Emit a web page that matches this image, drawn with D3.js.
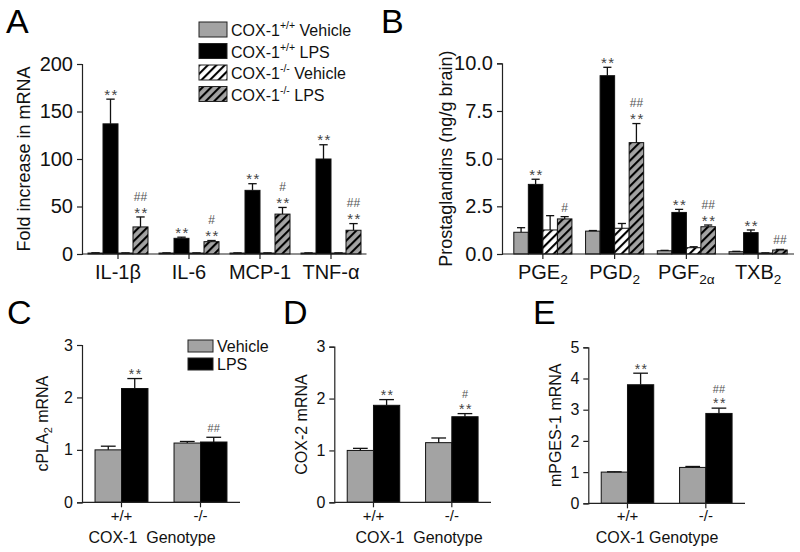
<!DOCTYPE html>
<html><head><meta charset="utf-8">
<script src="https://cdn.jsdelivr.net/npm/d3@7"></script>
<style>
body{margin:0;background:#fff}
text{font-family:Arial,"Liberation Sans",Helvetica,sans-serif}
</style>
</head><body>
<svg id="chart" width="800" height="552"></svg>
<script>
// ---------- DATA ----------
// Panel A: fold increase in mRNA
const catsA = ["IL-1β", "IL-6", "MCP-1", "TNF-α"];
const aWtVeh = [1, 1, 1, 1];
const aWtVehSem = [0.3, 0.2, 0.2, 0.2];
const aWtLps = [137, 16.5, 67, 100];
const aWtLpsSem = [26, 1.2, 7, 15];
const aKoVeh = [1, 1, 1, 1];
const aKoVehSem = [0.2, 0.2, 0.2, 0.2];
const aKoLps = [28.5, 13, 42, 25];
const aKoLpsSem = [10.5, 1.2, 7, 7];
const aStarsWtLps = ["**", "**", "**", "**"];
const aStarsKoLps = ["**", "**", "**", "**"];
const aHashKoLps = ["##", "#", "#", "##"];
const aTicks = [0, 50, 100, 150, 200];

// Panel B: prostaglandins (ng/g brain)
const catsB = ["PGE_{2}", "PGD_{2}", "PGF_{2α}", "TXB_{2}"];
const bWtVeh = [1.14, 1.2, 0.17, 0.12];
const bWtVehSem = [0.24, 0.03, 0.02, 0.02];
const bWtLps = [3.65, 9.35, 2.18, 1.12];
const bWtLpsSem = [0.27, 0.44, 0.16, 0.14];
const bKoVeh = [1.26, 1.35, 0.33, 0.05];
const bKoVehSem = [0.75, 0.25, 0.05, 0.01];
const bKoLps = [1.84, 5.84, 1.43, 0.21];
const bKoLpsSem = [0.12, 1.0, 0.09, 0.03];
const bStarsWtLps = ["**", "**", "**", "**"];
const bStarsKoLps = ["", "**", "**", ""];
const bHashKoLps = ["#", "##", "##", "##"];
const bTicks = [0, 2.5, 5, 7.5, 10];

// Panels C-E: genotype
const catsGeno = ["+/+", "-/-"];
const cVeh = [1.0, 1.13], cVehSem = [0.07, 0.03];
const cLps = [2.17, 1.15], cLpsSem = [0.19, 0.09];
const cStars = ["**", ""], cHash = ["", "##"];
const cTicks = [0, 1, 2, 3];
const dVeh = [1.0, 1.15], dVehSem = [0.04, 0.09];
const dLps = [1.87, 1.65], dLpsSem = [0.11, 0.06];
const dStars = ["**", "**"], dHash = ["", "#"];
const dTicks = [0, 1, 2, 3];
const eVeh = [1.0, 1.15], eVehSem = [0.01, 0.03];
const eLps = [3.8, 2.88], eLpsSem = [0.37, 0.17];
const eStars = ["**", "**"], eHash = ["", "##"];
const eTicks = [0, 1, 2, 3, 4, 5];

const legendA = [
  {base: "COX-1", sup: "+/+", rest: " Vehicle", fill: "gray"},
  {base: "COX-1", sup: "+/+", rest: " LPS", fill: "black"},
  {base: "COX-1", sup: "-/-", rest: " Vehicle", fill: "hatchW"},
  {base: "COX-1", sup: "-/-", rest: " LPS", fill: "hatchG"}
];
const legendC = [{label: "Vehicle", fill: "gray"}, {label: "LPS", fill: "black"}];

// ---------- DRAWING ----------
const GRAY = "#a3a3a3";
const svg = d3.select("#chart");
const defs = svg.append("defs");
function hatch(id, bg) {
  const p = defs.append("pattern").attr("id", id).attr("patternUnits", "userSpaceOnUse")
    .attr("width", 6).attr("height", 6).attr("patternTransform", "rotate(45)");
  p.append("rect").attr("width", 6).attr("height", 6).attr("fill", bg);
  p.append("line").attr("x1", 1).attr("y1", 0).attr("x2", 1).attr("y2", 6)
    .attr("stroke", "#000").attr("stroke-width", 2.2);
}
hatch("hw", "#fff");
hatch("hg", GRAY);
const fills = {gray: GRAY, black: "#000", hatchW: "url(#hw)", hatchG: "url(#hg)"};

// text with optional subscript: "main_{sub}rest"
function richLabel(sel, s, fs, shift) {
  const m = s.match(/^(.*?)_\{(.*?)\}(.*)$/);
  if (!m) { sel.text(s); return; }
  sel.append("tspan").text(m[1]);
  sel.append("tspan").attr("font-size", fs * 0.68).attr("dy", shift).text(m[2]);
  if (m[3]) sel.append("tspan").attr("dy", -shift).text(m[3]);
}

function panel(o) {
  const g = svg.append("g");
  const x = d3.scaleBand().domain(o.cats).range(o.xRange).paddingInner(0).paddingOuter(0);
  const y = d3.scaleLinear().domain(o.yDomain).range(o.yRange);
  const nS = o.series.length;
  const groupW = x.bandwidth() * o.groupFrac;
  const bw = groupW / nS;
  const inner = d3.scaleBand().domain(d3.range(nS)).range([0, groupW]);

  // y axis
  const ya = g.append("g").attr("transform", `translate(${o.axisX},0)`)
    .call(d3.axisLeft(y).tickValues(o.ticks).tickFormat(o.fmt).tickSizeOuter(0).tickSize(5));
  ya.select(".domain").attr("stroke", "#222").attr("stroke-width", 1.2);
  ya.selectAll(".tick line").attr("stroke", "#222").attr("stroke-width", 1.2);
  ya.selectAll("text").attr("font-size", o.tickFs).attr("fill", "#111")
    .attr("font-family", "Arial, 'Liberation Sans', sans-serif").attr("dx", -1);

  // bars
  o.series.forEach((s, si) => {
    o.cats.forEach((c, ci) => {
      const x0 = x(c) + (x.bandwidth() - groupW) / 2 + inner(si);
      const v = s.vals[ci];
      const top = y(v);
      g.append("rect").attr("x", x0).attr("y", top).attr("width", bw)
        .attr("height", Math.max(y(0) - top, 0.6))
        .attr("fill", fills[s.fill]).attr("stroke", "#111").attr("stroke-width", 1);
      let capY = top;
      const cx = x0 + bw / 2;
      if (s.sem && s.sem[ci] > 0) {
        capY = y(v + s.sem[ci]);
        g.append("line").attr("x1", cx).attr("x2", cx).attr("y1", top).attr("y2", capY)
          .attr("stroke", "#111").attr("stroke-width", 1.3);
        g.append("line").attr("x1", cx - bw * 0.28).attr("x2", cx + bw * 0.28)
          .attr("y1", capY).attr("y2", capY).attr("stroke", "#111").attr("stroke-width", 1.3);
      }
      // annotations stacked above the error cap
      let base = capY - 5;
      if (s.stars && s.stars[ci]) {
        const sb = base + o.starFs * 0.38;
        g.append("text").attr("x", cx + 1).attr("y", sb).attr("text-anchor", "middle")
          .attr("font-size", o.starFs).attr("fill", "#444").attr("letter-spacing", 1.5)
          .text(s.stars[ci]);
        base = sb - o.starFs * 0.905 - o.hashFs * 0.22 - 0.8;
      }
      if (s.hash && s.hash[ci]) {
        g.append("text").attr("x", cx).attr("y", base).attr("text-anchor", "middle")
          .attr("font-size", o.hashFs).attr("fill", "#555")
          .attr("font-family", "'Liberation Serif','DejaVu Serif',serif")
          .text(s.hash[ci]);
      }
    });
  });

  // x axis
  const y0 = y(0);
  g.append("line").attr("x1", o.axisX).attr("x2", o.xRange[1]).attr("y1", y0).attr("y2", y0)
    .attr("stroke", "#222").attr("stroke-width", 1.2);
  o.cats.forEach(c => {
    const cx = x(c) + x.bandwidth() / 2;
    g.append("line").attr("x1", cx).attr("x2", cx).attr("y1", y0).attr("y2", y0 + 5)
      .attr("stroke", "#222").attr("stroke-width", 1.2);
    const t = g.append("text").attr("x", cx).attr("y", o.catY).attr("text-anchor", "middle")
      .attr("font-size", o.catFs).attr("fill", "#111");
    richLabel(t, c, o.catFs, 5);
  });

  // y label
  const ym = (o.yRange[0] + o.yRange[1]) / 2;
  const yl = g.append("text").attr("transform", `translate(${o.ylabX},${ym}) rotate(-90)`)
    .attr("text-anchor", "middle").attr("font-size", o.ylabFs).attr("fill", "#111");
  richLabel(yl, o.ylab, o.ylabFs, 4);
  // x title
  if (o.xtitle) {
    g.append("text").attr("x", o.xtitleX).attr("y", o.xtitleY).attr("text-anchor", "middle")
      .attr("font-size", o.xtitleFs).attr("fill", "#111")
      .style("white-space", "pre").text(o.xtitle);
  }
  // panel letter
  svg.append("text").attr("x", o.letterX).attr("y", o.letterY).attr("font-size", 34)
    .attr("fill", "#000").text(o.letter);
}

panel({
  letter: "A", letterX: 6, letterY: 33,
  cats: catsA, xRange: [82.5, 366.5], axisX: 82, yRange: [254, 64], yDomain: [0, 200],
  ticks: aTicks, fmt: d3.format("d"), tickFs: 20, groupFrac: 0.845,
  series: [
    {vals: aWtVeh, sem: aWtVehSem, fill: "gray"},
    {vals: aWtLps, sem: aWtLpsSem, fill: "black", stars: aStarsWtLps},
    {vals: aKoVeh, sem: aKoVehSem, fill: "hatchW"},
    {vals: aKoLps, sem: aKoLpsSem, fill: "hatchG", stars: aStarsKoLps, hash: aHashKoLps}
  ],
  catY: 279, catFs: 20, ylab: "Fold increase in mRNA", ylabX: 30, ylabFs: 18,
  starFs: 15, hashFs: 12
});

panel({
  letter: "B", letterX: 381, letterY: 33,
  cats: catsB, xRange: [507, 794], axisX: 502, yRange: [254, 63.3], yDomain: [0, 10],
  ticks: bTicks, fmt: d3.format(".1f"), tickFs: 20, groupFrac: 0.81,
  series: [
    {vals: bWtVeh, sem: bWtVehSem, fill: "gray"},
    {vals: bWtLps, sem: bWtLpsSem, fill: "black", stars: bStarsWtLps},
    {vals: bKoVeh, sem: bKoVehSem, fill: "hatchW"},
    {vals: bKoLps, sem: bKoLpsSem, fill: "hatchG", stars: bStarsKoLps, hash: bHashKoLps}
  ],
  catY: 279, catFs: 20, ylab: "Prostaglandins (ng/g brain)", ylabX: 452, ylabFs: 18,
  starFs: 15, hashFs: 12
});

panel({
  letter: "C", letterX: 7, letterY: 324,
  cats: catsGeno, xRange: [82, 240], axisX: 82, yRange: [502.3, 345], yDomain: [0, 3],
  ticks: cTicks, fmt: d3.format("d"), tickFs: 16, groupFrac: 0.67,
  series: [
    {vals: cVeh, sem: cVehSem, fill: "gray"},
    {vals: cLps, sem: cLpsSem, fill: "black", stars: cStars, hash: cHash}
  ],
  catY: 521, catFs: 15, ylab: "cPLA_{2} mRNA", ylabX: 48, ylabFs: 16,
  xtitle: "COX-1  Genotype", xtitleX: 152, xtitleY: 543, xtitleFs: 16,
  starFs: 14, hashFs: 11
});

panel({
  letter: "D", letterX: 283, letterY: 324,
  cats: catsGeno, xRange: [334.3, 491], axisX: 334.3, yRange: [502.3, 346.7], yDomain: [0, 3],
  ticks: dTicks, fmt: d3.format("d"), tickFs: 16, groupFrac: 0.67,
  series: [
    {vals: dVeh, sem: dVehSem, fill: "gray"},
    {vals: dLps, sem: dLpsSem, fill: "black", stars: dStars, hash: dHash}
  ],
  catY: 521, catFs: 15, ylab: "COX-2 mRNA", ylabX: 307, ylabFs: 16,
  xtitle: "COX-1  Genotype", xtitleX: 419, xtitleY: 543, xtitleFs: 16,
  starFs: 14, hashFs: 11
});

panel({
  letter: "E", letterX: 533, letterY: 324,
  cats: catsGeno, xRange: [588.3, 745], axisX: 588.3, yRange: [503.3, 347.3], yDomain: [0, 5],
  ticks: eTicks, fmt: d3.format("d"), tickFs: 16, groupFrac: 0.67,
  series: [
    {vals: eVeh, sem: eVehSem, fill: "gray"},
    {vals: eLps, sem: eLpsSem, fill: "black", stars: eStars, hash: eHash}
  ],
  catY: 521, catFs: 15, ylab: "mPGES-1 mRNA", ylabX: 561, ylabFs: 16,
  xtitle: "COX-1 Genotype", xtitleX: 657, xtitleY: 543, xtitleFs: 16,
  starFs: 14, hashFs: 11
});

// Legend panel A
const lgA = svg.append("g");
legendA.forEach((d, i) => {
  const yy = 22 + i * 21.5;
  lgA.append("rect").attr("x", 199).attr("y", yy).attr("width", 28).attr("height", 15)
    .attr("fill", fills[d.fill]).attr("stroke", "#222").attr("stroke-width", 1);
  const t = lgA.append("text").attr("x", 231).attr("y", yy + 14).attr("font-size", 16)
    .attr("fill", "#111").style("white-space", "pre");
  t.append("tspan").text(d.base);
  t.append("tspan").attr("font-size", 10.5).attr("dy", -7).text(d.sup);
  t.append("tspan").attr("dy", 7).text(d.rest);
});
// Legend panel C
const lgC = svg.append("g");
legendC.forEach((d, i) => {
  const yy = 340 + i * 18;
  lgC.append("rect").attr("x", 188).attr("y", yy).attr("width", 25).attr("height", 12)
    .attr("fill", fills[d.fill]).attr("stroke", "#222").attr("stroke-width", 1);
  lgC.append("text").attr("x", 217).attr("y", yy + 12).attr("font-size", 16)
    .attr("fill", "#111").text(d.label);
});
</script>
</body></html>
